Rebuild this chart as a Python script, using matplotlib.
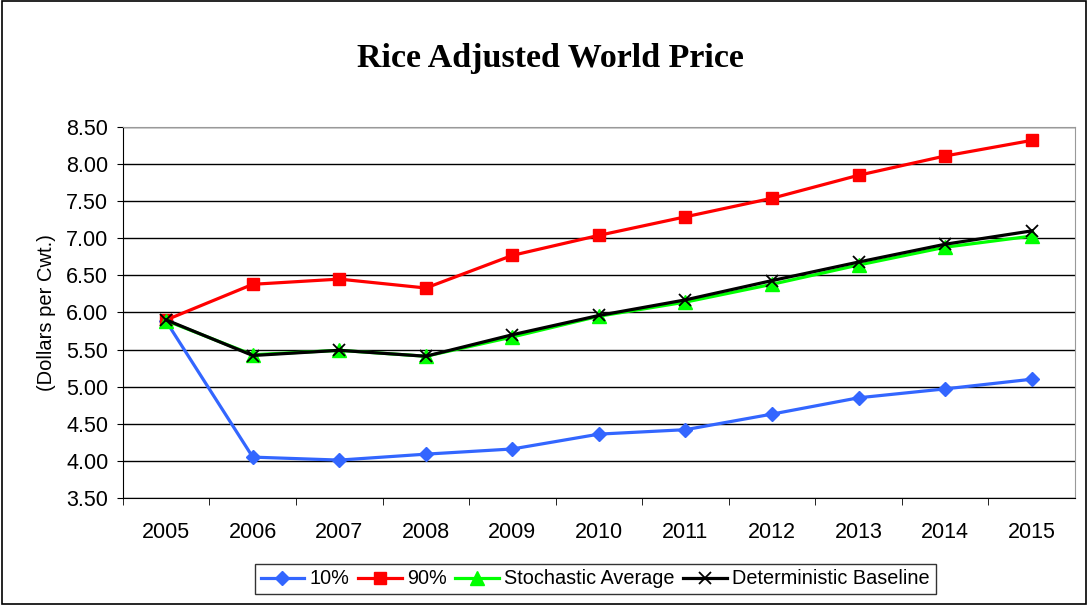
import matplotlib
matplotlib.use("Agg")
import matplotlib.pyplot as plt
from matplotlib.patches import Rectangle
from matplotlib.ticker import FixedLocator

years = [2005, 2006, 2007, 2008, 2009, 2010, 2011, 2012, 2013, 2014, 2015]
p10 = [5.88, 4.05, 4.01, 4.09, 4.16, 4.36, 4.42, 4.63, 4.85, 4.97, 5.10]
p90 = [5.90, 6.38, 6.45, 6.33, 6.77, 7.04, 7.29, 7.54, 7.85, 8.11, 8.32]
stoch = [5.89, 5.43, 5.49, 5.41, 5.67, 5.95, 6.14, 6.38, 6.64, 6.88, 7.03]
determ = [5.90, 5.42, 5.49, 5.41, 5.70, 5.96, 6.17, 6.43, 6.68, 6.92, 7.10]
yticks = [3.5, 4.0, 4.5, 5.0, 5.5, 6.0, 6.5, 7.0, 7.5, 8.0, 8.5]

fig = plt.figure(figsize=(10.88, 6.05), dpi=100)
fig.patches.append(Rectangle((0.002, 0.002), 0.996, 0.996, transform=fig.transFigure,
                             fill=False, edgecolor='black', linewidth=1.2))
ax = fig.add_axes([0.113, 0.177, 0.875, 0.613])

lw = 2.3
ax.plot(years, p10, color='#3366FF', marker='D', markersize=7, linewidth=lw, label='10%', zorder=3)
ax.plot(years, p90, color='#FF0000', marker='s', markersize=9, linewidth=lw, label='90%', zorder=3)
ax.plot(years, stoch, color='#00FF00', marker='^', markersize=9.5, linewidth=lw, label='Stochastic Average', zorder=4)
ax.plot(years, determ, color='black', marker='x', markersize=8.5, markeredgewidth=1.3, linewidth=lw,
        label='Deterministic Baseline', zorder=5)

ax.set_xlim(2004.5, 2015.5)
ax.set_ylim(3.5, 8.5)
ax.set_yticks(yticks)
ax.set_yticklabels([f"{v:.2f}" for v in yticks], fontsize=15.5, family='Liberation Sans')
ax.set_xticks(years)
ax.set_xticklabels([str(y) for y in years], fontsize=15.5, family='Liberation Sans')
ax.xaxis.set_minor_locator(FixedLocator([y + 0.5 for y in years[:-1]] + [2004.5]))
ax.tick_params(axis='x', which='major', length=0, pad=17)
ax.tick_params(axis='x', which='minor', length=5, direction='out')
ax.tick_params(axis='y', length=4.5, direction='out', pad=6)
ax.grid(axis='y', color='black', linewidth=1.0, zorder=0)
ax.set_axisbelow(True)
for s in ['top', 'right']:
    ax.spines[s].set_color('#999999')
for s in ['left', 'bottom']:
    ax.spines[s].set_color('black')

ax.set_ylabel('(Dollars per Cwt.)', fontsize=14.5, family='Liberation Sans', labelpad=7)
fig.text(0.506, 0.904, 'Rice Adjusted World Price', ha='center', va='center',
         fontsize=24.5, fontweight='bold', family='Liberation Serif')

leg = fig.legend(loc='center', bbox_to_anchor=(0.547, 0.043), ncol=4,
                 prop={'family': 'Liberation Sans', 'size': 14.3}, frameon=True, fancybox=False,
                 edgecolor='black', handlelength=2.2, handletextpad=0.25, columnspacing=0.45,
                 borderpad=0.3, borderaxespad=0)
leg.get_frame().set_linewidth(1.0)

fig.savefig('out.png', dpi=100)
